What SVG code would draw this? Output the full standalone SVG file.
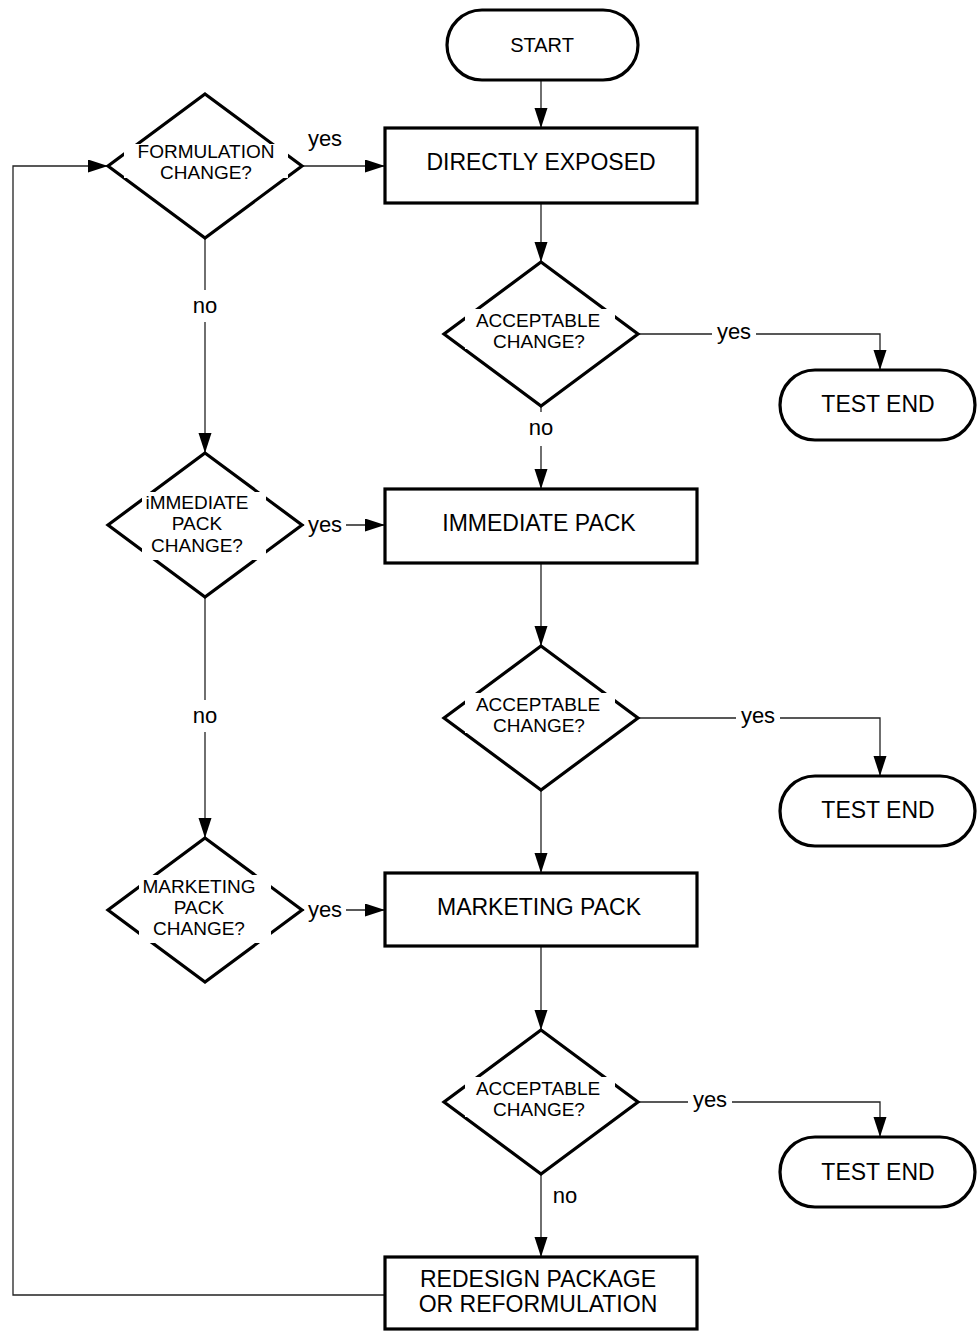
<svg xmlns="http://www.w3.org/2000/svg" width="980" height="1331" viewBox="0 0 980 1331">
<style>
.shape{fill:#fff;stroke:#000;stroke-width:3.2}
.conn{fill:none;stroke:#222;stroke-width:1.3}
.t{font-family:"Liberation Sans",Arial,sans-serif;fill:#000;text-anchor:middle}
.box{font-size:23px}
.dia{font-size:19px}
.lbl{font-size:22px}
.bg{fill:#fff;stroke:none}
</style>
<defs>
<marker id="ah" markerUnits="userSpaceOnUse" markerWidth="22" markerHeight="14" refX="20" refY="6.5" orient="auto">
<path d="M0,0 L20,6.5 L0,13 z" fill="#000"/>
</marker>
</defs>
<rect width="980" height="1331" fill="#fff"/>

<g id="connectors">
<path class="conn" d="M541,80 V128" marker-end="url(#ah)"/>
<path class="conn" d="M541,203 V262" marker-end="url(#ah)"/>
<path class="conn" d="M541,406 V489" marker-end="url(#ah)"/>
<path class="conn" d="M541,563 V646" marker-end="url(#ah)"/>
<path class="conn" d="M541,790 V873" marker-end="url(#ah)"/>
<path class="conn" d="M541,946 V1030" marker-end="url(#ah)"/>
<path class="conn" d="M541,1174 V1257" marker-end="url(#ah)"/>
<path class="conn" d="M638,334 H880 V370" marker-end="url(#ah)"/>
<path class="conn" d="M638,718 H880 V776" marker-end="url(#ah)"/>
<path class="conn" d="M638,1102 H880 V1137" marker-end="url(#ah)"/>
<path class="conn" d="M205,238 V453" marker-end="url(#ah)"/>
<path class="conn" d="M205,597 V838" marker-end="url(#ah)"/>
<path class="conn" d="M302,166 H385" marker-end="url(#ah)"/>
<path class="conn" d="M302,525 H385" marker-end="url(#ah)"/>
<path class="conn" d="M302,910 H385" marker-end="url(#ah)"/>
<path class="conn" d="M385,1295 H13 V166 H108" marker-end="url(#ah)"/>
<!-- labels -->
<text class="t lbl" x="325" y="146">yes</text>
<rect class="bg" x="190" y="290" width="30" height="32"/>
<text class="t lbl" x="205" y="313">no</text>
<rect class="bg" x="304" y="512" width="42" height="26"/>
<text class="t lbl" x="325" y="532">yes</text>
<rect class="bg" x="190" y="700" width="30" height="32"/>
<text class="t lbl" x="205" y="723">no</text>
<rect class="bg" x="304" y="897" width="42" height="26"/>
<text class="t lbl" x="325" y="917">yes</text>
<rect class="bg" x="712" y="320" width="44" height="26"/>
<text class="t lbl" x="734" y="339">yes</text>
<rect class="bg" x="526" y="412" width="30" height="34"/>
<text class="t lbl" x="541" y="435">no</text>
<rect class="bg" x="736" y="704" width="44" height="26"/>
<text class="t lbl" x="758" y="723">yes</text>
<rect class="bg" x="688" y="1088" width="44" height="26"/>
<text class="t lbl" x="710" y="1107">yes</text>
<text class="t lbl" x="565" y="1203">no</text>
</g>

<g id="start">
<rect class="shape" x="447" y="10" width="191" height="70" rx="35" ry="35"/>
<text class="t" style="font-size:20px" x="542" y="52">START</text>
</g>

<g id="directly-exposed">
<rect class="shape" x="385" y="128" width="312" height="75"/>
<text class="t box" x="541" y="170">DIRECTLY EXPOSED</text>
</g>

<g id="formulation-change">
<polygon class="shape" points="205,94 302,166 205,238 108,166"/>
<rect class="bg" x="124" y="144" width="164" height="34"/>
<text class="t dia" x="206" y="158">FORMULATION</text>
<text class="t dia" x="206" y="179">CHANGE?</text>
</g>

<g id="acceptable-1">
<polygon class="shape" points="541,262 638,334 541,406 444,334"/>
<rect class="bg" x="465" y="309" width="150" height="40"/>
<text class="t dia" x="538" y="327">ACCEPTABLE</text>
<text class="t dia" x="539" y="348">CHANGE?</text>
</g>

<g id="test-end-1">
<rect class="shape" x="780" y="370" width="195" height="70" rx="35" ry="35"/>
<text class="t box" x="878" y="412">TEST END</text>
</g>

<g id="immediate-pack-change">
<polygon class="shape" points="205,453 302,525 205,597 108,525"/>
<rect class="bg" x="142" y="492" width="124" height="68"/>
<text class="t dia" x="197" y="509">iMMEDIATE</text>
<text class="t dia" x="197" y="530">PACK</text>
<text class="t dia" x="197" y="552">CHANGE?</text>
</g>

<g id="immediate-pack">
<rect class="shape" x="385" y="489" width="312" height="74"/>
<text class="t box" x="539" y="531">IMMEDIATE PACK</text>
</g>

<g id="acceptable-2">
<polygon class="shape" points="541,646 638,718 541,790 444,718"/>
<rect class="bg" x="465" y="693" width="150" height="40"/>
<text class="t dia" x="538" y="711">ACCEPTABLE</text>
<text class="t dia" x="539" y="732">CHANGE?</text>
</g>

<g id="test-end-2">
<rect class="shape" x="780" y="776" width="195" height="70" rx="35" ry="35"/>
<text class="t box" x="878" y="818">TEST END</text>
</g>

<g id="marketing-pack-change">
<polygon class="shape" points="205,838 302,910 205,982 108,910"/>
<rect class="bg" x="139" y="875" width="132" height="68"/>
<text class="t dia" x="199" y="893">MARKETING</text>
<text class="t dia" x="199" y="914">PACK</text>
<text class="t dia" x="199" y="935">CHANGE?</text>
</g>

<g id="marketing-pack">
<rect class="shape" x="385" y="873" width="312" height="73"/>
<text class="t box" x="539" y="915">MARKETING PACK</text>
</g>

<g id="acceptable-3">
<polygon class="shape" points="541,1030 638,1102 541,1174 444,1102"/>
<rect class="bg" x="465" y="1077" width="150" height="40"/>
<text class="t dia" x="538" y="1095">ACCEPTABLE</text>
<text class="t dia" x="539" y="1116">CHANGE?</text>
</g>

<g id="test-end-3">
<rect class="shape" x="780" y="1137" width="195" height="70" rx="35" ry="35"/>
<text class="t box" x="878" y="1180">TEST END</text>
</g>

<g id="redesign">
<rect class="shape" x="385" y="1257" width="312" height="72"/>
<text class="t box" x="538" y="1287">REDESIGN PACKAGE</text>
<text class="t box" x="538" y="1312">OR REFORMULATION</text>
</g>
</svg>
